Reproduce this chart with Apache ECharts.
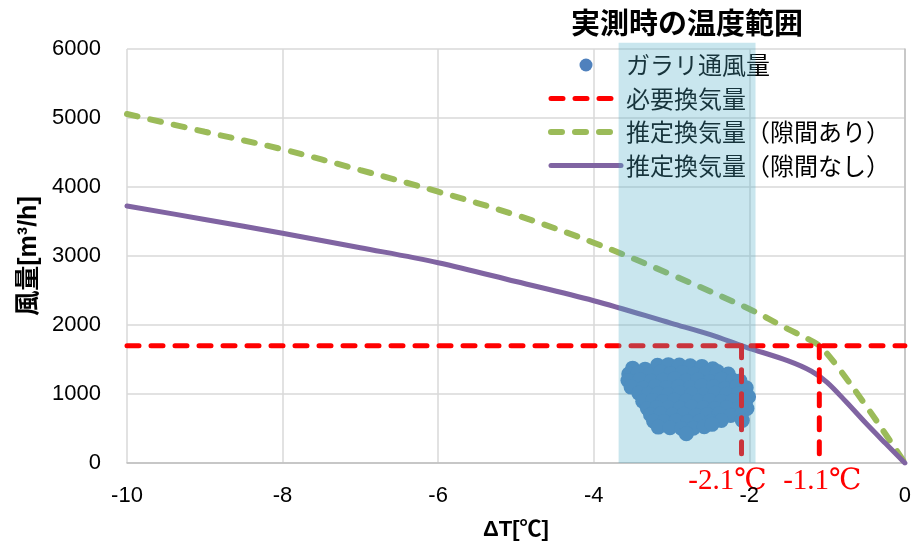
<!DOCTYPE html>
<html>
<head>
<meta charset="utf-8">
<script src="https://cdn.jsdelivr.net/npm/echarts@6/dist/echarts.min.js"></script>
<style>
  html, body { margin: 0; padding: 0; background: #fff; }
  #chart { width: 914px; height: 552px; }
</style>
</head>
<body>
<div id="chart"></div>
<script>
// ---- data ----
const xTicks = [-10, -8, -6, -4, -2, 0];
const yTicks = [0, 1000, 2000, 3000, 4000, 5000, 6000];

// measured louver airflow (ΔT [℃], airflow [m³/h]), listed roughly row by row
const louverDT = [
  -3.50, -3.34, -3.18, -3.04, -2.90, -2.76, -2.61, -2.47,
  -3.55, -3.43, -3.29, -3.14, -3.01, -2.86, -2.71, -2.56, -2.41, -2.27,
  -3.56, -3.41, -3.26, -3.11, -2.96, -2.81, -2.66, -2.51, -2.36, -2.21, -2.12,
  -3.52, -3.36, -3.21, -3.06, -2.91, -2.76, -2.61, -2.46, -2.31, -2.16, -2.04,
  -3.42, -3.30, -3.17, -3.04, -2.89, -2.74, -2.59, -2.44, -2.29, -2.14, -2.01,
  -3.37, -3.24, -3.11, -2.96, -2.81, -2.66, -2.51, -2.36, -2.21, -2.05,
  -3.31, -3.19, -3.04, -2.89, -2.74, -2.59, -2.44, -2.29, -2.14, -2.03,
  -3.27, -3.14, -2.99, -2.84, -2.69, -2.54, -2.39, -2.24, -2.10,
  -3.23, -3.09, -2.94, -2.79, -2.64, -2.49, -2.36, -2.09,
  -3.17, -3.02, -2.87, -2.72, -2.58, -2.48, -2.81
];
const louverFlow = [
  1375, 1360, 1415, 1425, 1420, 1410, 1400, 1365,
  1290, 1305, 1280, 1320, 1295, 1310, 1285, 1300, 1325, 1290,
  1195, 1210, 1185, 1200, 1220, 1190, 1205, 1180, 1215, 1200, 1190,
  1100, 1085, 1110, 1095, 1105, 1090, 1115, 1100, 1080, 1110, 1090,
  1010, 995, 1005, 990, 1015, 1000, 985, 1010, 995, 1005, 960,
  895, 905, 890, 910, 900, 895, 905, 890, 900, 880,
  790, 805, 800, 795, 810, 800, 790, 805, 795, 790,
  700, 710, 695, 705, 690, 700, 710, 690, 700,
  605, 600, 610, 595, 605, 600, 615, 615,
  520, 510, 500, 505, 525, 560, 425
];

// required ventilation rate
const requiredFlow = 1700;
const requiredDT = [-2.1, -1.1];           // ΔT where each estimate meets the requirement
const requiredLabels = ['-2.1℃', '-1.1℃'];

// estimated ventilation, with gaps
const gapDT   = [-10, -9, -8, -7, -6, -5, -4, -3, -2, -1.5, -1.25, -1.1, -0.9, -0.5, -0.25, 0];
const gapFlow = [5058, 4800, 4546, 4245, 3932, 3594, 3193, 2729, 2232, 1940, 1800, 1700, 1445, 830, 420, 0];

// estimated ventilation, without gaps
const noGapDT   = [-10, -9, -8, -7, -6, -5, -4, -3, -2.5, -2.1, -2, -1.5, -1.2, -1, -0.75, -0.5, -0.25, 0];
const noGapFlow = [3725, 3530, 3329, 3120, 2903, 2630, 2352, 2024, 1860, 1700, 1663, 1480, 1330, 1170, 880, 575, 285, 0];

// temperature range during measurement
const bandRange = [-3.68, -1.92];
const bandTop = 6090;
const bandTitle = '実測時の温度範囲';

const seriesNames = ['ガラリ通風量', '必要換気量', '推定換気量（隙間あり）', '推定換気量（隙間なし）'];

// ---- styles ----
const pair = (xs, ys) => xs.map((x, i) => [x, ys[i]]);
const cjk = "'Noto Sans CJK JP'";
const latin = "'Liberation Sans', 'Noto Sans CJK JP'";

const scatterColor = '#4F81BD';
const redDash = { color: '#FF0000', width: 5, type: [12, 12], cap: 'round' };
const greenDash = { color: '#9BBB59', width: 6, type: [11, 13], cap: 'round' };
const purpleSolid = { color: '#8064A2', width: 5, cap: 'round' };

const chart = echarts.init(document.getElementById('chart'));

chart.setOption({
  animation: false,
  backgroundColor: '#fff',
  grid: { left: 127, right: 7, top: 49, bottom: 89, containLabel: false },
  legend: {
    orient: 'vertical',
    left: 548,
    top: 53,
    padding: 0,
    itemWidth: 70,
    itemHeight: 13,
    itemGap: 9.5,
    data: [
      { name: seriesNames[0], itemStyle: { color: scatterColor } },
      { name: seriesNames[1], itemStyle: { opacity: 0 }, lineStyle: redDash },
      { name: seriesNames[2], itemStyle: { opacity: 0 }, lineStyle: greenDash },
      { name: seriesNames[3], itemStyle: { opacity: 0 }, lineStyle: purpleSolid }
    ],
    textStyle: { fontFamily: cjk, fontSize: 24, color: '#000', lineHeight: 24 }
  },
  xAxis: {
    type: 'value',
    min: xTicks[0],
    max: xTicks[xTicks.length - 1],
    interval: xTicks[1] - xTicks[0],
    name: 'ΔT[℃]',
    nameLocation: 'middle',
    nameGap: 56,
    nameTextStyle: { fontFamily: latin, fontSize: 22, fontWeight: 'bold', color: '#000' },
    axisLine: { show: true, lineStyle: { color: '#BFBFBF', width: 1.5 } },
    axisTick: { show: false },
    axisLabel: { fontFamily: "'Liberation Sans'", fontSize: 22, color: '#000', margin: 22 },
    splitLine: { show: true, lineStyle: { color: '#D9D9D9', width: 1.5 } }
  },
  yAxis: {
    type: 'value',
    min: yTicks[0],
    max: yTicks[yTicks.length - 1],
    interval: yTicks[1] - yTicks[0],
    name: '風量[m³/h]',
    nameLocation: 'middle',
    nameGap: 84,
    nameTextStyle: { fontFamily: latin, fontSize: 25, fontWeight: 'bold', color: '#000' },
    axisLine: { show: true, lineStyle: { color: '#BFBFBF', width: 1.5 } },
    axisTick: { show: false },
    axisLabel: {
      fontFamily: "'Liberation Sans'", fontSize: 22, color: '#000', margin: 26,
      formatter: v => String(v)
    },
    splitLine: { show: true, lineStyle: { color: '#D9D9D9', width: 1.5 } }
  },
  series: [
    {
      name: seriesNames[0],
      type: 'scatter',
      symbol: 'circle',
      symbolSize: 15,
      itemStyle: { color: scatterColor, opacity: 1 },
      data: pair(louverDT, louverFlow),
      z: 2
    },
    {
      name: seriesNames[1],
      type: 'line',
      symbol: 'none',
      lineStyle: redDash,
      data: [[xTicks[0], requiredFlow], [xTicks[xTicks.length - 1], requiredFlow]],
      z: 4
    },
    {
      name: seriesNames[1],
      type: 'line',
      symbol: 'none',
      lineStyle: redDash,
      data: [[requiredDT[0], requiredFlow], [requiredDT[0], 0]],
      z: 4
    },
    {
      name: seriesNames[1],
      type: 'line',
      symbol: 'none',
      lineStyle: redDash,
      data: [[requiredDT[1], requiredFlow], [requiredDT[1], 0]],
      z: 4
    },
    {
      name: seriesNames[2],
      type: 'line',
      symbol: 'none',
      smooth: 0.35,
      lineStyle: greenDash,
      data: pair(gapDT, gapFlow),
      z: 3
    },
    {
      name: seriesNames[3],
      type: 'line',
      symbol: 'none',
      smooth: 0.35,
      lineStyle: purpleSolid,
      data: pair(noGapDT, noGapFlow),
      z: 3
    },
    {
      // translucent band for the measured temperature range, drawn over everything
      name: 'band',
      type: 'custom',
      zlevel: 1,
      silent: true,
      clip: false,
      encode: { x: [0, 1], y: 2 },
      data: [[bandRange[0], bandRange[1], bandTop]],
      renderItem: function (params, api) {
        const a = api.coord([api.value(0), 0]);
        const b = api.coord([api.value(1), api.value(2)]);
        return {
          type: 'group',
          children: [
            {
              type: 'rect',
              shape: { x: a[0], y: b[1], width: b[0] - a[0], height: a[1] - b[1] },
              style: { fill: 'rgba(75,172,198,0.3)' }
            },
            {
              type: 'text',
              x: (a[0] + b[0]) / 2,
              y: b[1] - 20,
              style: {
                text: bandTitle,
                fill: '#000',
                font: "bold 29px 'Noto Sans CJK JP'",
                align: 'center',
                verticalAlign: 'middle'
              }
            }
          ]
        };
      }
    }
  ]
});

// value labels under the required-rate crossing lines
const labelShift = [-14, 3];
chart.setOption({
  graphic: requiredDT.map((x, i) => {
    const p = chart.convertToPixel({ gridIndex: 0 }, [x, 0]);
    return {
      type: 'text',
      x: p[0] + labelShift[i],
      y: p[1] + 18,
      silent: true,
      style: {
        text: requiredLabels[i],
        fill: '#FF0000',
        font: "29px 'Liberation Serif', 'DejaVu Serif', serif",
        align: 'center',
        verticalAlign: 'middle'
      }
    };
  })
});
</script>
</body>
</html>
